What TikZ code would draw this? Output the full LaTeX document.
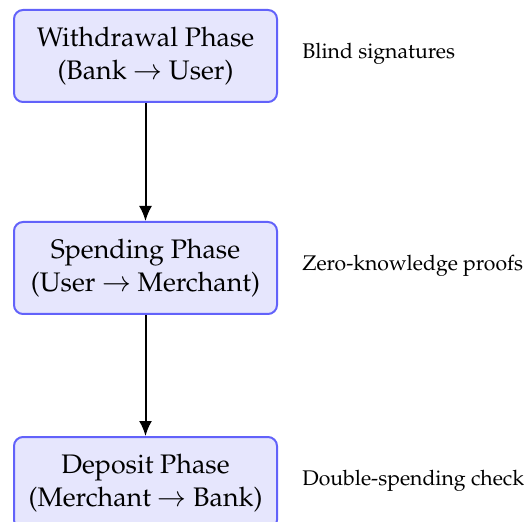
\documentclass[tikz,border=0pt]{standalone}
\usepackage[T1]{fontenc}
\usepackage{palatino}
\usetikzlibrary{arrows.meta}
\definecolor{boxborder}{RGB}{98,98,250}
\definecolor{boxfill}{RGB}{230,230,253}
\tikzset{
  phasebox/.style={draw=boxborder, fill=boxfill, line width=1pt, rounded corners=4.5pt,
    minimum width=131.5pt, minimum height=46pt, align=center, inner sep=0pt,
    font=\fontsize{13.4}{16.5}\selectfont},
  sidenote/.style={anchor=west, inner sep=0pt, font=\fontsize{10.6}{13}\selectfont},
  flow/.style={-{Latex[length=7.5pt,width=6.5pt]}, line width=1pt}
}
\begin{document}
\begin{tikzpicture}[x=0.5pt,y=-0.5pt]
\useasboundingbox (0,0) rectangle (528,522);
\node[phasebox] (w) at (145.5,56) {Withdrawal Phase\\(Bank $\rightarrow$ User)};
\node[phasebox] (s) at (145.5,268) {Spending Phase\\(User $\rightarrow$ Merchant)};
\node[phasebox] (d) at (145.5,483) {Deposit Phase\\(Merchant $\rightarrow$ Bank)};
\node[sidenote] (wn) at (302,54) {Blind signatures};
\node[sidenote] (sn) at (302,266) {Zero-knowledge proofs};
\node[sidenote] (dn) at (302,481) {Double-spending check};
\draw[flow] (w) -- (s);
\draw[flow] (s) -- (d);
\end{tikzpicture}
\end{document}
